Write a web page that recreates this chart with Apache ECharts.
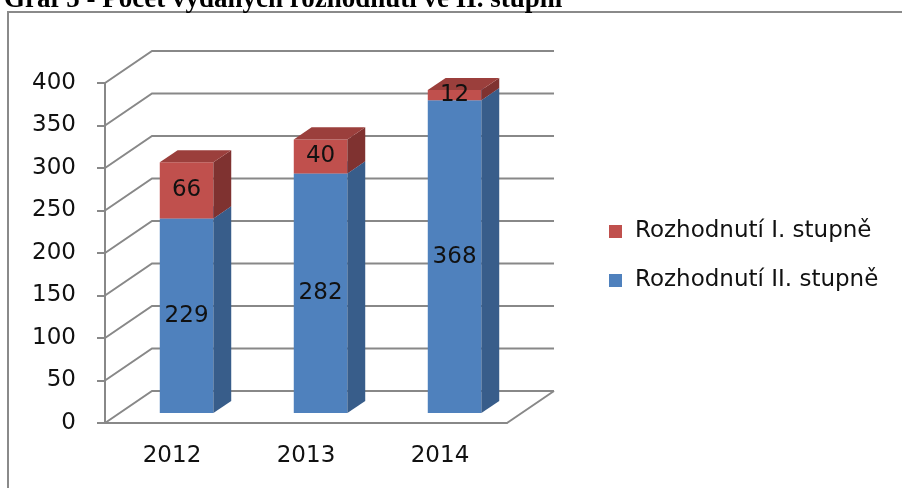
<!DOCTYPE html>
<html>
<head>
<meta charset="UTF-8">
<title></title>
<script src="https://cdn.jsdelivr.net/npm/echarts@6/dist/echarts.min.js"></script>
</head>
<body style="margin:0">
<div id="container" style="height:488px;width:902px;"></div>
<script>
    var years = ['2012', '2013', '2014'];
    var druhyStupen = [229, 282, 368];   // Rozhodnutí II. stupně (modrá)
    var prvniStupen = [66, 40, 12];      // Rozhodnutí I. stupně (červená)
    var yTicks = [0, 50, 100, 150, 200, 250, 300, 350, 400];

    var chart = echarts.init(document.getElementById('container'));

    // hloubka 3D grafu v pixelech
    var DX = 47, DY = -32;
    var F1 = 0.31, F2 = 0.69;
    var GRID = '#888888';
    var FONT = 'DejaVu Sans';

    function gridItem(params, api) {
        var v = api.value(1);
        var p = api.coord([0, v]);
        var x0 = params.coordSys.x, x1 = x0 + params.coordSys.width;
        var y = p[1];
        var kids = [{
            type: 'polyline',
            shape: {points: [[x0, y], [x0 + DX, y + DY], [x1 + DX, y + DY]]},
            style: {stroke: GRID, lineWidth: 2, fill: null}
        }];
        if (v === 0) {
            kids.push({
                type: 'line',
                shape: {x1: x1, y1: y, x2: x1 + DX, y2: y + DY},
                style: {stroke: GRID, lineWidth: 2}
            });
        }
        return {type: 'group', children: kids};
    }

    function barItem(front, side, top) {
        return function (params, api) {
            var i = api.value(0), lo = api.value(1), hi = api.value(2);
            var b = api.coord([i, lo]);
            var t = api.coord([i, hi]);
            var w = api.size([1, 0])[0] * 0.4;
            var xL = b[0] - w / 2 + F1 * DX, xR = xL + w;
            var yB = b[1] + F1 * DY, yT = t[1] + F1 * DY;
            var ddx = (F2 - F1) * DX, ddy = (F2 - F1) * DY;
            return {
                type: 'group',
                children: [
                    {type: 'rect', shape: {x: xL, y: yT, width: w, height: yB - yT}, style: {fill: front}},
                    {type: 'polygon', shape: {points: [[xR, yB], [xR + ddx, yB + ddy], [xR + ddx, yT + ddy], [xR, yT]]}, style: {fill: side}},
                    {type: 'polygon', shape: {points: [[xL, yT], [xR, yT], [xR + ddx, yT + ddy], [xL + ddx, yT + ddy]]}, style: {fill: top}},
                    {type: 'text', x: (xL + xR) / 2, y: (yT + yB) / 2,
                        style: {text: String(hi - lo), fill: '#111', font: '23px "DejaVu Sans"', align: 'center', verticalAlign: 'middle'}}
                ]
            };
        };
    }

    var option = {
        animation: false,
        color: ['#4F81BD', '#C0504D'],
        graphic: [
            {type: 'rect', shape: {x: 8, y: 12, width: 1000, height: 600},
                style: {fill: null, stroke: '#8a8a8a', lineWidth: 2}},
            {type: 'text', x: 4, y: 0,
                style: {text: 'Graf 5 - Počet vydaných rozhodnutí ve II. stupni', fill: '#000',
                    font: 'bold 27px "Liberation Serif"', verticalAlign: 'middle'}}
        ],
        legend: {
            orient: 'vertical',
            left: 604,
            top: 215,
            itemWidth: 13,
            itemHeight: 13,
            itemGap: 26,
            icon: 'rect',
            data: ['Rozhodnutí I. stupně', 'Rozhodnutí II. stupně'],
            textStyle: {fontFamily: FONT, fontSize: 23, color: '#111', padding: [0, 0, 0, 8]}
        },
        grid: {left: 105, right: 395, top: 83, bottom: 65},
        xAxis: {
            type: 'category',
            data: years,
            axisLine: {lineStyle: {color: GRID, width: 2}},
            axisTick: {length: 9, lineStyle: {color: GRID, width: 2}},
            axisLabel: {fontFamily: FONT, fontSize: 23, color: '#111', margin: 22}
        },
        yAxis: {
            type: 'value',
            min: 0, max: 400, interval: 50,
            axisLine: {show: true, lineStyle: {color: GRID, width: 2}},
            axisTick: {show: true, length: 8, lineStyle: {color: GRID, width: 2}},
            splitLine: {show: false},
            axisLabel: {fontFamily: FONT, fontSize: 23, color: '#111', margin: 29}
        },
        series: [
            {
                type: 'custom',
                silent: true,
                renderItem: gridItem,
                encode: {x: 0, y: 1},
                data: yTicks.map(function (v) { return [0, v]; }),
                z: 1
            },
            {
                name: 'Rozhodnutí II. stupně',
                type: 'custom',
                itemStyle: {color: '#4F81BD'},
                renderItem: barItem('#4F81BD', '#385D8A', '#6A95CC'),
                encode: {x: 0, y: [1, 2]},
                data: years.map(function (c, i) { return [i, 0, druhyStupen[i]]; }),
                z: 2
            },
            {
                name: 'Rozhodnutí I. stupně',
                type: 'custom',
                itemStyle: {color: '#C0504D'},
                renderItem: barItem('#C0504D', '#7F3230', '#9B3F3C'),
                encode: {x: 0, y: [1, 2]},
                data: years.map(function (c, i) { return [i, druhyStupen[i], druhyStupen[i] + prvniStupen[i]]; }),
                z: 3
            }
        ]
    };
    chart.setOption(option);
</script>
</body>
</html>
